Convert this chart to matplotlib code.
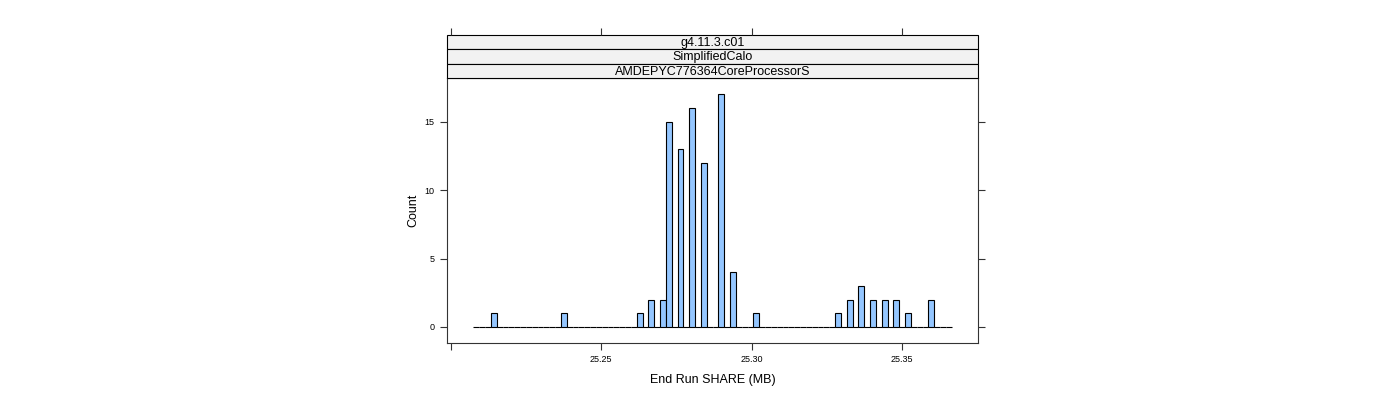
import numpy as np
import matplotlib
matplotlib.use("Agg")
import matplotlib.pyplot as plt
from matplotlib.patches import Rectangle

plt.rcParams["font.family"] = ["Liberation Sans", "DejaVu Sans"]

# ---------------------------------------------------------------------------
# Data: histogram of end-run SHARE memory (MB)
# ---------------------------------------------------------------------------
bin_start = 25.20757
bin_width = 0.001938
counts = [
    0, 0, 0, 1, 0, 0, 0, 0, 0, 0,
    0, 0, 0, 0, 0, 1, 0, 0, 0, 0,
    0, 0, 0, 0, 0, 0, 0, 0, 1, 0,
    2, 0, 2, 15, 0, 13, 0, 16, 0, 12,
    0, 0, 17, 0, 4, 0, 0, 0, 1, 0,
    0, 0, 0, 0, 0, 0, 0, 0, 0, 0,
    0, 0, 1, 0, 2, 0, 3, 0, 2, 0,
    2, 0, 2, 0, 1, 0, 0, 0, 2, 0,
    0, 0,
]
strip_labels = ["g4.11.3.c01", "SimplifiedCalo", "AMDEPYC776364CoreProcessorS"]
x_ticks = [25.20, 25.25, 25.30, 25.35]
x_ticklabels = ["", "25.25", "25.30", "25.35"]
y_ticks = [0, 5, 10, 15]

xlim = (25.1988, 25.3752)
ylim = (-1.17, 18.2)

W, H = 1400, 400
fig = plt.figure(figsize=(W / 100, H / 100), dpi=100)

# panel
ax = fig.add_axes([447 / W, 1 - 343 / H, (978 - 447) / W, (343 - 78) / H])
lefts = bin_start + bin_width * np.arange(len(counts))
ax.bar(lefts, counts, width=bin_width, align="edge", color="#94C6FF",
       edgecolor="black", linewidth=0.8)
ax.set_xlim(*xlim)
ax.set_ylim(*ylim)
ax.set_xticks(x_ticks)
ax.set_xticklabels(x_ticklabels)
ax.set_yticks(y_ticks)
ax.tick_params(axis="both", direction="out", length=5, width=0.8,
               labelsize=6.5, colors="#333333", labelcolor="black", pad=4)
ax.tick_params(axis="y", right=True, labelright=False)
for sp in ax.spines.values():
    sp.set_color("#333333")
    sp.set_linewidth(0.8)
ax.set_xlabel("End Run SHARE (MB)", fontsize=9, labelpad=7)
ax.set_ylabel("Count", fontsize=9, labelpad=4)

# strips (stacked, outermost on top)
sax = fig.add_axes([447 / W, 1 - 78 / H, (978 - 447) / W, (78 - 35) / H])
sax.set_xlim(*xlim)
sax.set_ylim(0, 3)
n = len(strip_labels)
for i, lbl in enumerate(strip_labels):
    y0 = n - 1 - i
    sax.add_patch(Rectangle((xlim[0], y0), xlim[1] - xlim[0], 1,
                            facecolor="#f2f2f2", edgecolor="black",
                            linewidth=0.8, clip_on=False))
    sax.text(np.mean(xlim), y0 + 0.45, lbl, ha="center", va="center", fontsize=9)
sax.set_xticks(x_ticks)
sax.set_yticks([])
sax.tick_params(axis="x", top=True, bottom=False, labeltop=False,
                labelbottom=False, direction="out", length=5, width=0.8,
                colors="#333333")
for sp in sax.spines.values():
    sp.set_visible(False)

fig.savefig("out.png", dpi=100)
